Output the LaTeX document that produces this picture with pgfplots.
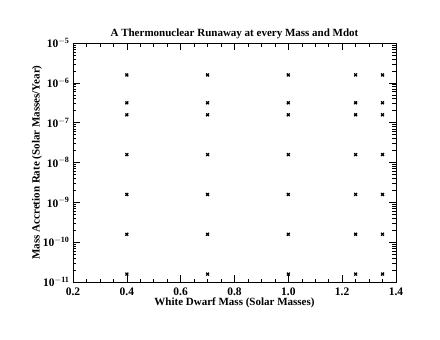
\documentclass[border=0pt]{standalone}
\usepackage{pgfplots}
\pgfplotsset{compat=1.18}
\usepackage{fontspec}
\setmainfont{Liberation Serif}

\begin{document}
\begin{tikzpicture}[x=1pt,y=1pt]
\path (0,0) rectangle (440,340);
\begin{axis}[
    at={(73pt,58pt)}, anchor=south west,
    scale only axis,
    width=323pt, height=239pt,
    xmin=0.2, xmax=1.4,
    ymode=log, ymin=1e-11, ymax=1e-5,
    xtick={0.2,0.4,...,1.4},
    minor x tick num=3,
    ytick={1e-11,1e-10,1e-9,1e-8,1e-7,1e-6,1e-5},
    yticklabels={
      \textbf{10\textsuperscript{$\mathbf{-}$11}},
      \textbf{10\textsuperscript{$\mathbf{-}$10}},
      \textbf{10\textsuperscript{$\mathbf{-}$9}},
      \textbf{10\textsuperscript{$\mathbf{-}$8}},
      \textbf{10\textsuperscript{$\mathbf{-}$7}},
      \textbf{10\textsuperscript{$\mathbf{-}$6}},
      \textbf{10\textsuperscript{$\mathbf{-}$5}}},
    xticklabel={\textbf{\pgfmathprintnumber[fixed,fixed zerofill,precision=1]{\tick}}},
    /pgf/number format/assume math mode=true,
    tick align=inside,
    major tick length=7pt, minor tick length=3.5pt,
    tick style={black, line width=0.5pt},
    axis line style={black, line width=0.7pt},
    title={\textbf{A Thermonuclear Runaway at every Mass and Mdot}},
    title style={font=\fontsize{11}{13}\selectfont, yshift=-5pt},
    xlabel={\textbf{White Dwarf Mass (Solar Masses)}},
    ylabel={\textbf{Mass Accretion Rate (Solar Masses/Year)}},
    label style={font=\fontsize{11}{13}\selectfont},
    tick label style={font=\fontsize{11.5}{13}\selectfont},
    xticklabel style={yshift=-2pt},
    xlabel style={yshift=4pt},
    ylabel style={yshift=-6pt},
]
\addplot[only marks, mark=x, mark size=2pt, line width=1.3pt, black] coordinates {
  (0.4,1.58e-6) (0.4,3.16e-7) (0.4,1.58e-7) (0.4,1.58e-8) (0.4,1.58e-9) (0.4,1.58e-10) (0.4,1.58e-11)
  (0.7,1.58e-6) (0.7,3.16e-7) (0.7,1.58e-7) (0.7,1.58e-8) (0.7,1.58e-9) (0.7,1.58e-10) (0.7,1.58e-11)
  (1.0,1.58e-6) (1.0,3.16e-7) (1.0,1.58e-7) (1.0,1.58e-8) (1.0,1.58e-9) (1.0,1.58e-10) (1.0,1.58e-11)
  (1.25,1.58e-6) (1.25,3.16e-7) (1.25,1.58e-7) (1.25,1.58e-8) (1.25,1.58e-9) (1.25,1.58e-10) (1.25,1.58e-11)
  (1.35,1.58e-6) (1.35,3.16e-7) (1.35,1.58e-7) (1.35,1.58e-8) (1.35,1.58e-9) (1.35,1.58e-10) (1.35,1.58e-11)
};
\end{axis}
\end{tikzpicture}
\end{document}
